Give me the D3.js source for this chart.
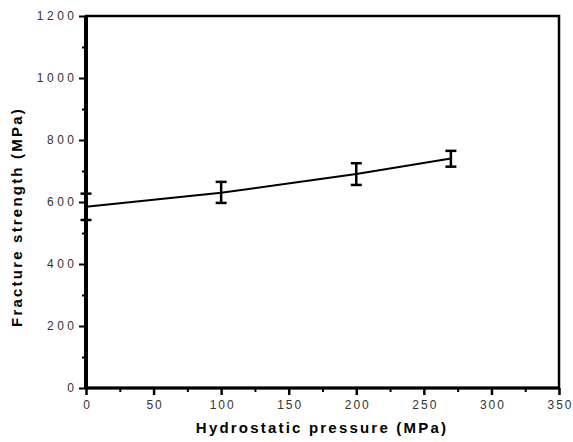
<!DOCTYPE html>
<html>
<head>
<meta charset="utf-8">
<script src="https://cdn.jsdelivr.net/npm/d3@7"></script>
<style>
  body { margin: 0; background: #fff; }
  svg { display: block; }
  .tick text { font-family: Arial, "Liberation Sans", sans-serif; font-size: 12px; fill: #333; }
</style>
</head>
<body>
<div id="chart"></div>
<script>
const pressure = [0, 100, 200, 270];
const strength = [585, 630, 690, 740];
const errLow = [542, 597, 655, 714];
const errHigh = [627, 665, 725, 765];
const xTicks = [0, 50, 100, 150, 200, 250, 300, 350];
const yTicks = [0, 200, 400, 600, 800, 1000, 1200];

const W = 573, H = 442;
const M = { TOP: 16, LEFT: 86, RIGHT: 14, BOTTOM: 54 };
const width = W - M.LEFT - M.RIGHT;
const height = H - M.TOP - M.BOTTOM;

const svg = d3.select('#chart').append('svg')
    .attr('width', W)
    .attr('height', H);
const g = svg.append('g')
    .attr('transform', `translate(${M.LEFT}, ${M.TOP})`);

const x = d3.scaleLinear().domain([0, 350]).range([0, width]);
const y = d3.scaleLinear().domain([0, 1200]).range([height, 0]);

// minor ticks first
g.append('g')
    .attr('transform', `translate(0, ${height})`)
    .call(d3.axisBottom(x).tickValues(d3.range(25, 350, 50)).tickSize(4).tickFormat(''))
    .call(a => a.select('.domain').remove())
    .call(a => a.selectAll('line').attr('stroke-width', 2));
g.append('g')
    .call(d3.axisLeft(y).tickValues(d3.range(100, 1200, 200)).tickSize(4).tickFormat(''))
    .call(a => a.select('.domain').remove())
    .call(a => a.selectAll('line').attr('stroke-width', 2));

const xAxis = g.append('g')
    .attr('transform', `translate(0, ${height})`)
    .call(d3.axisBottom(x).tickValues(xTicks).tickSize(7).tickPadding(5).tickFormat(d3.format('d')))
    .call(a => a.select('.domain').remove());
xAxis.selectAll('line').attr('stroke-width', 2.5);
xAxis.selectAll('text').style('letter-spacing', '2px').attr('dx', '1px');

const yAxis = g.append('g')
    .call(d3.axisLeft(y).tickValues(yTicks).tickSize(7).tickPadding(5).tickFormat(d3.format('d')))
    .call(a => a.select('.domain').remove());
yAxis.selectAll('line').attr('stroke-width', 2);
yAxis.selectAll('text').style('letter-spacing', '3.5px').attr('dx', '3.5px');

// frame
g.append('rect')
    .attr('x', 0).attr('y', 0)
    .attr('width', width).attr('height', height)
    .attr('fill', 'none')
    .attr('stroke', '#000')
    .attr('stroke-width', 2.5);
g.append('line')
    .attr('x1', 0).attr('x2', 0).attr('y1', 0).attr('y2', height)
    .attr('stroke', '#000').attr('stroke-width', 4);
g.append('line')
    .attr('x1', 0).attr('x2', width).attr('y1', height).attr('y2', height)
    .attr('stroke', '#000').attr('stroke-width', 3);

const data = pressure.map((p, i) => ({ p, s: strength[i], lo: errLow[i], hi: errHigh[i] }));

const line = d3.line().x(d => x(d.p)).y(d => y(d.s));
g.append('path')
    .attr('d', line(data))
    .attr('fill', 'none')
    .attr('stroke', '#000')
    .attr('stroke-width', 2);

const bars = g.append('g').selectAll('g').data(data).enter().append('g')
    .attr('stroke', '#000');
bars.append('line')
    .attr('x1', d => x(d.p)).attr('x2', d => x(d.p))
    .attr('y1', d => y(d.lo)).attr('y2', d => y(d.hi))
    .attr('stroke-width', 2.5);
bars.append('line')
    .attr('x1', d => x(d.p) - 5.5).attr('x2', d => x(d.p) + 5.5)
    .attr('y1', d => y(d.hi)).attr('y2', d => y(d.hi))
    .attr('stroke-width', 2.5);
bars.append('line')
    .attr('x1', d => x(d.p) - 5.5).attr('x2', d => x(d.p) + 5.5)
    .attr('y1', d => y(d.lo)).attr('y2', d => y(d.lo))
    .attr('stroke-width', 2.5);

svg.append('text')
    .attr('x', 322)
    .attr('y', 433)
    .attr('text-anchor', 'middle')
    .style('font-family', 'Arial, "Liberation Sans", sans-serif')
    .style('font-size', '15px')
    .style('font-weight', 'bold')
    .style('letter-spacing', '2.2px')
    .text('Hydrostatic pressure (MPa)');

svg.append('text')
    .attr('transform', `translate(22, 217) rotate(-90)`)
    .attr('text-anchor', 'middle')
    .style('font-family', 'Arial, "Liberation Sans", sans-serif')
    .style('font-size', '15px')
    .style('font-weight', 'bold')
    .style('letter-spacing', '2.2px')
    .text('Fracture strength (MPa)');
</script>
</body>
</html>
